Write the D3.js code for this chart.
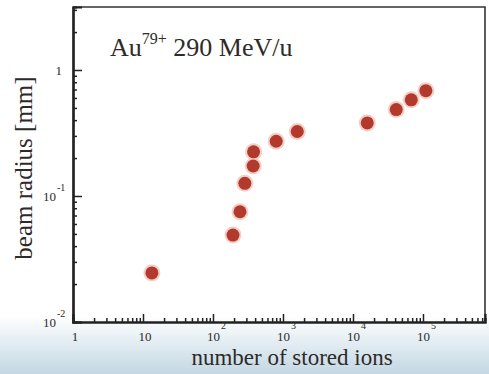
<!DOCTYPE html>
<html>
<head>
<meta charset="utf-8">
<script src="https://cdn.jsdelivr.net/npm/d3@7"></script>
<style>
  body { margin: 0; background: #fff; }
  text { font-family: "Liberation Serif", "Times New Roman", "DejaVu Serif", serif; fill: #2e2a28; }
</style>
</head>
<body>
<script>
// data: number of stored ions vs beam radius (mm)
var ions   = [13.4, 193, 243, 285, 375, 380, 800, 1600, 16000, 41500, 68000, 110000];
var radius = [0.0245, 0.049, 0.075, 0.126, 0.173, 0.224, 0.272, 0.325, 0.38, 0.485, 0.58, 0.685];

var xMajor = [1, 10, 100, 1000, 10000, 100000];
var xExp   = [null, null, 2, 3, 4, 5];      // "1", "10", then 10^n
var yMajor = [0.01, 0.1, 1];
var yExp   = [-2, -1, null];

var W = 489, H = 374;
var svg = d3.select("body").append("svg")
            .attr("width", W)
            .attr("height", H)
            .attr("font-family", "'Liberation Serif', 'Times New Roman', serif");

// soft bluish band at the bottom of the slide
var grad = svg.append("defs").append("linearGradient")
              .attr("id", "bg").attr("x1", 0).attr("y1", 0).attr("x2", 0).attr("y2", 1);
grad.append("stop").attr("offset", "0%").attr("stop-color", "#ffffff");
grad.append("stop").attr("offset", "100%").attr("stop-color", "#c3d7e3");
svg.append("rect").attr("x", 0).attr("y", 316).attr("width", W).attr("height", H - 316)
   .attr("fill", "url(#bg)");

var x = d3.scaleLog().domain([1, Math.pow(10, 5.886)]).range([73, 485]);
var y = d3.scaleLog().domain([0.01, Math.pow(10, 0.5)]).range([322, 7]);

// minor tick values 2..9 in every decade
function minors(scale) {
  var d = scale.domain(), out = [];
  for (var e = Math.floor(Math.log10(d[0])); e < Math.ceil(Math.log10(d[1])); e++) {
    for (var k = 2; k <= 9; k++) {
      var v = k * Math.pow(10, e);
      if (v > d[0] && v < d[1]) out.push(v);
    }
  }
  return out;
}

// frame (top and right)
svg.append("path")
   .attr("d", "M" + x.range()[0] + "," + y.range()[1] + "H" + x.range()[1] + "V" + y.range()[0])
   .attr("fill", "none").attr("stroke", "#333").attr("stroke-width", 1.6);

// x axis
var gx = svg.append("g").attr("transform", "translate(0," + y.range()[0] + ")");
gx.append("g").call(d3.axisBottom(x).tickValues(minors(x)).tickSize(-4).tickFormat(""));
gx.append("g").call(d3.axisBottom(x).tickValues(xMajor).tickSize(-8).tickFormat(""));
gx.selectAll("path.domain").attr("stroke", "#222").attr("stroke-width", 2.2);
gx.selectAll("line").attr("stroke", "#222").attr("stroke-width", 1.5);

// y axis
var gy = svg.append("g").attr("transform", "translate(" + x.range()[0] + ",0)");
gy.append("g").call(d3.axisLeft(y).tickValues(minors(y)).tickSize(-4).tickFormat(""));
gy.append("g").call(d3.axisLeft(y).tickValues(yMajor).tickSize(-9).tickFormat(""));
gy.selectAll("path.domain").attr("stroke", "#222").attr("stroke-width", 2.2);
gy.selectAll("line").attr("stroke", "#222").attr("stroke-width", 1.5);

// x tick labels (superscript as its own text so nothing overlaps)
xMajor.forEach(function (v, i) {
  if (xExp[i] === null) {
    svg.append("text").attr("x", x(v) + 2).attr("y", 341)
       .attr("text-anchor", "middle").attr("font-size", 13).text(v);
  } else {
    svg.append("text").attr("x", x(v) + 7).attr("y", 341)
       .attr("text-anchor", "end").attr("font-size", 13).text("10");
    svg.append("text").attr("x", x(v) + 8).attr("y", 329)
       .attr("font-size", 10).text(xExp[i]);
  }
});

// y tick labels
yMajor.forEach(function (v, i) {
  if (yExp[i] === null) {
    svg.append("text").attr("x", 62).attr("y", y(v) + 5)
       .attr("text-anchor", "end").attr("font-size", 13).text(v);
  } else {
    svg.append("text").attr("x", 56).attr("y", y(v) + 5)
       .attr("text-anchor", "end").attr("font-size", 13).text("10");
    svg.append("text").attr("x", 57).attr("y", y(v) - 5)
       .attr("font-size", 10).text(yExp[i]);
  }
});

// axis titles
svg.append("text").attr("x", 292).attr("y", 365).attr("text-anchor", "middle")
   .attr("font-size", 23).text("number of stored ions");
svg.append("text").attr("transform", "translate(32,168) rotate(-90)")
   .attr("text-anchor", "middle").attr("font-size", 25).text("beam radius [mm]");

// annotation
var ann = svg.append("text").attr("x", 110).attr("y", 56).attr("font-size", 26);
ann.append("tspan").text("Au");
ann.append("tspan").attr("dy", -12).attr("font-size", 16).text("79+");
ann.append("tspan").attr("dy", 12).text(" 290 MeV/u");

// data points with a faint halo
svg.selectAll("circle.halo").data(ions).enter().append("circle")
   .attr("class", "halo")
   .attr("cx", function (d) { return x(d); })
   .attr("cy", function (d, i) { return y(radius[i]); })
   .attr("r", 8.5)
   .attr("fill", "#f3cfc8");
svg.selectAll("circle.pt").data(ions).enter().append("circle")
   .attr("class", "pt")
   .attr("cx", function (d) { return x(d); })
   .attr("cy", function (d, i) { return y(radius[i]); })
   .attr("r", 6.5)
   .attr("fill", "#b23a2c");
</script>
</body>
</html>
